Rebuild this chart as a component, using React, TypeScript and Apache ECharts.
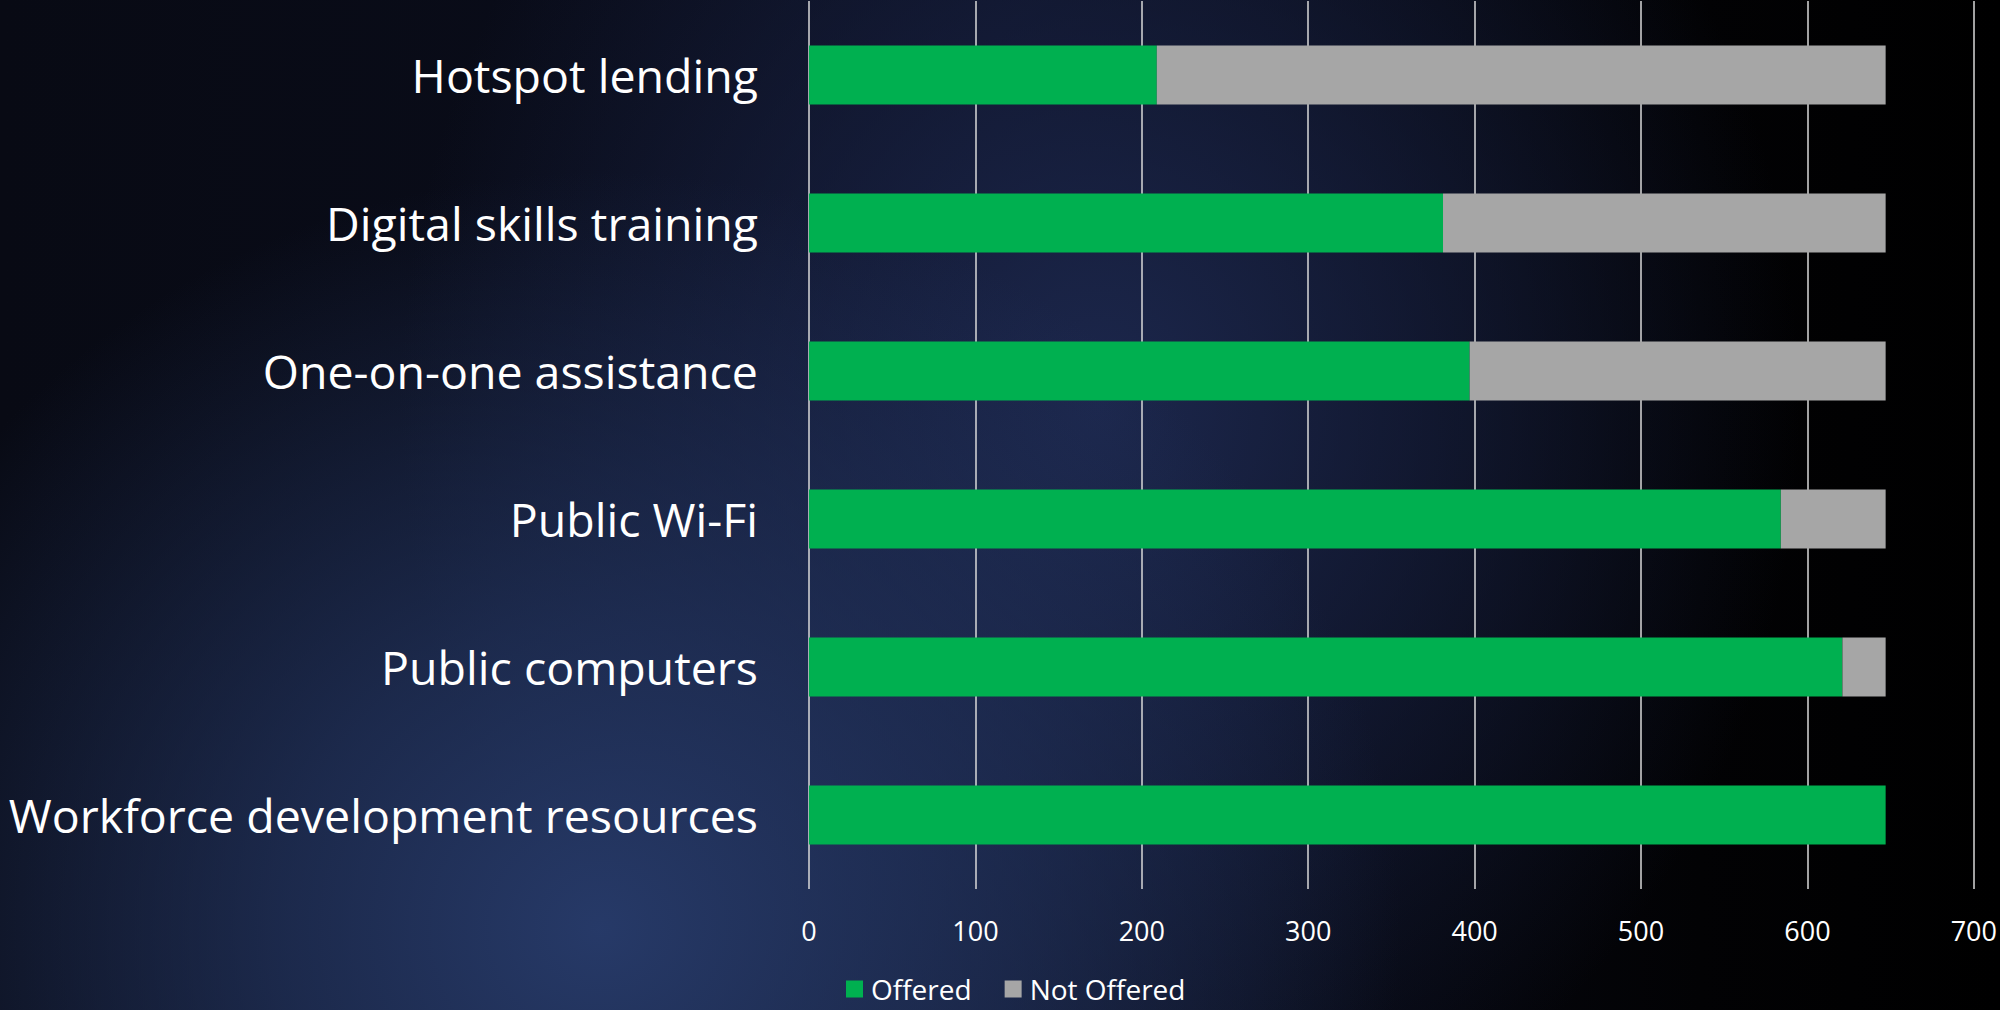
import React, { useEffect, useRef } from "react";
import * as echarts from "echarts";

const categories = [
  "Hotspot lending",
  "Digital skills training",
  "One-on-one assistance",
  "Public Wi-Fi",
  "Public computers",
  "Workforce development resources",
];
const offered = [209, 381, 397, 584, 621, 647];
const notOffered = [438, 266, 250, 63, 26, 0];
const xTicks = [0, 100, 200, 300, 400, 500, 600, 700];
const seriesNames = ["Offered", "Not Offered"];

const FONT = "'Open Sans', 'Noto Sans', sans-serif";

export default function App() {
  const ref = useRef<HTMLDivElement>(null);
  useEffect(() => {
    if (!ref.current) return;
    const chart = echarts.init(ref.current, null, { renderer: "svg" });
    chart.setOption({
      animation: false,
      backgroundColor: "transparent",
      textStyle: { fontFamily: FONT },
      grid: { left: 809, right: 26, top: 1, bottom: 121, containLabel: false },
      legend: {
        data: seriesNames,
        bottom: 2,
        left: 841,
        itemWidth: 17,
        itemHeight: 17,
        itemGap: 33,
        icon: "rect",
        textStyle: { color: "#ffffff", fontSize: 28, fontFamily: FONT, padding: [0, 0, 0, 3] },
      },
      xAxis: {
        type: "value",
        min: xTicks[0],
        max: xTicks[xTicks.length - 1],
        interval: 100,
        axisLine: { show: false },
        axisTick: { show: false },
        axisLabel: { color: "#ffffff", fontSize: 27, margin: 28, fontFamily: FONT },
        splitLine: { show: true, lineStyle: { color: "#d9d9d9", width: 1.5 } },
      },
      yAxis: {
        type: "category",
        data: categories,
        inverse: true,
        axisLine: { show: false },
        axisTick: { show: false },
        axisLabel: { color: "#ffffff", fontSize: 46.5, margin: 51, fontFamily: FONT },
      },
      series: [
        {
          name: seriesNames[0],
          type: "bar",
          stack: "total",
          data: offered,
          barCategoryGap: "60%",
          itemStyle: { color: "#00b050" },
        },
        {
          name: seriesNames[1],
          type: "bar",
          stack: "total",
          data: notOffered,
          barCategoryGap: "60%",
          itemStyle: { color: "#a6a6a6" },
        },
      ],
    });
    return () => chart.dispose();
  }, []);
  return (
    <div
      style={{
        position: "fixed",
        left: 0,
        top: 0,
        width: 2000,
        height: 1010,
        background: [
          "radial-gradient(ellipse 40% 75% at 30% 92%, rgba(40,60,108,0.95) 0%, rgba(36,54,98,0.7) 40%, rgba(30,44,84,0) 100%)",
          "radial-gradient(ellipse 35% 80% at 55% 40%, rgba(30,42,82,0.9) 0%, rgba(26,36,72,0.6) 45%, rgba(20,28,56,0) 100%)",
          "linear-gradient(90deg, #080a14 0%, #0a0d1c 50%, #020204 85%, #000000 100%)",
        ].join(", "),
      }}
    >
      <div ref={ref} style={{ width: 2000, height: 1010 }} />
    </div>
  );
}
